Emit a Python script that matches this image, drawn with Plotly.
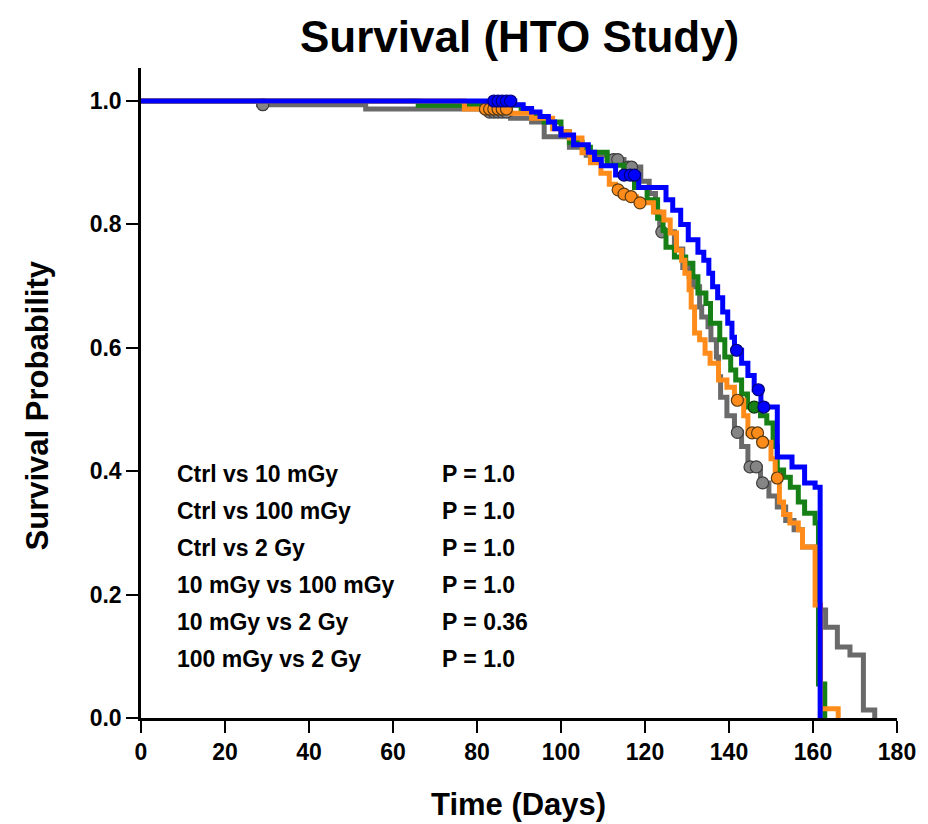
import numpy as np
import plotly.graph_objects as go

# ---------------- data ----------------
groups = ["Ctrl", "10 mGy", "100 mGy", "2 Gy"]

ctrl_t = [28, 53.5, 82, 88, 93, 96, 102, 106, 111, 115, 119, 121, 122.5, 123.5, 127, 129, 130.5, 131.5, 133, 133.5,
          135, 135.7, 137, 137.5, 138, 139.5, 141.3, 143, 144.5, 147.5, 149.5, 151.5, 153.5, 155.5, 157.5, 161.5, 163,
          165.8, 168.8, 172, 174.7]
ctrl_s = [0.994, 0.987, 0.982, 0.972, 0.966, 0.942, 0.925, 0.912, 0.905, 0.893, 0.87, 0.85, 0.82, 0.788, 0.76, 0.73,
          0.715, 0.699, 0.666, 0.65, 0.634, 0.613, 0.585, 0.553, 0.52, 0.49, 0.463, 0.44, 0.407, 0.381, 0.36, 0.342,
          0.32, 0.305, 0.277, 0.175, 0.147, 0.115, 0.102, 0.013, 0.0]
ctrl_cens = [29, 83, 84, 85, 86, 87, 112.5, 113.5, 116, 116.8, 124, 142, 145, 146.5, 148]

m10_t = [77, 88, 93, 98, 100, 102, 105, 107, 109.5, 111.5, 113, 114.5, 116, 118, 122, 124.5, 126, 127.5, 128.7, 129.5,
         130.5, 131, 131.8, 133, 134.3, 135.5, 137.5, 139.5, 141.3, 143.5, 144.5, 147.5, 150, 151, 152, 153, 154.5,
         156.5, 157.5, 160.5, 161.8, 166]
m10_s = [0.987, 0.98, 0.972, 0.955, 0.95, 0.94, 0.916, 0.9, 0.883, 0.865, 0.856, 0.849, 0.845, 0.835, 0.82, 0.807,
         0.786, 0.758, 0.742, 0.721, 0.694, 0.666, 0.624, 0.613, 0.591, 0.575, 0.548, 0.536, 0.515, 0.49, 0.462, 0.447,
         0.42, 0.389, 0.35, 0.33, 0.316, 0.305, 0.277, 0.183, 0.015, 0.0]
m10_cens = [82, 83, 84, 85, 86, 87, 113.6, 115, 116.7, 118.8, 142, 145.5, 146.8, 148, 151.5]

m100_t = [66, 90.5, 93, 96, 100, 102, 105, 107, 111, 115, 117.5, 120.5, 123, 124.3, 125, 127, 129.7, 131.4, 132.6,
          134.5, 135.6, 137.8, 139, 140.4, 141.6, 143, 144.4, 147.5, 149, 150.5, 151.5, 153, 154.6, 156.5, 158, 160.5,
          161.3, 162.8]
m100_s = [0.993, 0.985, 0.975, 0.966, 0.95, 0.933, 0.925, 0.917, 0.896, 0.88, 0.86, 0.84, 0.81, 0.79, 0.763, 0.747,
          0.737, 0.715, 0.689, 0.672, 0.64, 0.613, 0.585, 0.564, 0.548, 0.525, 0.504, 0.49, 0.478, 0.44, 0.402, 0.39,
          0.374, 0.35, 0.332, 0.316, 0.055, 0.0]
m100_cens = [146]

gy2_t = [89, 91, 93, 95, 97, 98.5, 100, 103, 106.5, 108, 109.6, 113, 118.5, 125, 126.6, 128.5, 130.3, 132.6, 134,
         135.2, 136.1, 137.3, 138.5, 139.7, 140.7, 141.3, 143, 144.5, 146, 147.6, 151.5, 155, 158, 160.5, 161.7]
gy2_s = [0.994, 0.988, 0.982, 0.975, 0.966, 0.955, 0.945, 0.929, 0.917, 0.905, 0.895, 0.88, 0.86, 0.84, 0.823, 0.80,
         0.775, 0.755, 0.742, 0.721, 0.699, 0.681, 0.658, 0.64, 0.617, 0.596, 0.575, 0.555, 0.532, 0.504, 0.423, 0.407,
         0.381, 0.374, 0.0]
gy2_cens = [84, 85, 86, 87, 88, 115, 116.5, 117.5, 141.8, 147, 148.3]

comparisons = ["Ctrl vs 10 mGy", "Ctrl vs 100 mGy", "Ctrl vs 2 Gy",
               "10 mGy vs 100 mGy", "10 mGy vs 2 Gy", "100 mGy vs 2 Gy"]
p_values = ["P = 1.0", "P = 1.0", "P = 1.0", "P = 1.0", "P = 0.36", "P = 1.0"]

x_ticks = [0, 20, 40, 60, 80, 100, 120, 140, 160, 180]
y_ticks = [0.0, 0.2, 0.4, 0.6, 0.8, 1.0]

# ---------------- styling ----------------
FONT = "Liberation Sans, Arial, Helvetica, sans-serif"
styles = {
    "Ctrl":    dict(line="#6a6a6a", fill="#858585", edge="#3c3c3c"),
    "10 mGy":  dict(line="#ff8c1a", fill="#ff8c1a", edge="#5a3a10"),
    "100 mGy": dict(line="#168016", fill="#168016", edge="#0c3c0c"),
    "2 Gy":    dict(line="#0000ff", fill="#0000ff", edge="#00007a"),
}
series = {
    "Ctrl": (ctrl_t, ctrl_s, ctrl_cens),
    "10 mGy": (m10_t, m10_s, m10_cens),
    "100 mGy": (m100_t, m100_s, m100_cens),
    "2 Gy": (gy2_t, gy2_s, gy2_cens),
}
draw_order = ["Ctrl", "100 mGy", "10 mGy", "2 Gy"]

fig = go.Figure()
for g in draw_order:
    t, s, c = series[g]
    st = styles[g]
    xs = [0.0] + list(t)
    ys = [1.0] + list(s)
    fig.add_trace(go.Scatter(x=xs, y=ys, mode="lines", line=dict(color=st["line"], width=5, shape="hv"),
                             name=g, showlegend=False, hoverinfo="skip"))
    # censor marks: survival at censor time from the step function
    tt = np.array(xs)
    yy = np.array(ys)
    idx = np.searchsorted(tt, np.array(c), side="right") - 1
    fig.add_trace(go.Scatter(x=c, y=yy[idx], mode="markers",
                             marker=dict(symbol="circle", size=12, color=st["fill"],
                                         line=dict(color=st["edge"], width=1.2)),
                             showlegend=False, hoverinfo="skip", cliponaxis=False))

tick_font = dict(family=FONT, size=23, color="black", weight="bold")
fig.update_xaxes(range=[0, 180], tickvals=x_ticks, ticktext=[str(v) for v in x_ticks],
                 showline=True, linecolor="black", linewidth=2.5, ticks="outside", ticklen=12,
                 tickwidth=2, tickcolor="black", showgrid=False, zeroline=False, tickfont=tick_font)
fig.update_yaxes(range=[0, 1.0535], tickvals=y_ticks, ticktext=[f"{v:.1f}" for v in y_ticks],
                 showline=True, linecolor="black", linewidth=2.5, ticks="outside", ticklen=12,
                 tickwidth=2, tickcolor="black", showgrid=False, zeroline=False, tickfont=tick_font)

L, R, T, B = 141, 28, 68, 106
W, H = 928, 824
pw, ph = W - L - R, H - T - B


def px(xp):
    return (xp - L) / pw


def py(yp):
    return (H - B - yp) / ph


ann = []
ann.append(dict(text="Survival (HTO Study)", x=0.5, y=py(36), xref="paper", yref="paper",
                showarrow=False, xanchor="center", yanchor="middle",
                font=dict(family=FONT, size=44, color="black", weight="bold")))
ann.append(dict(text="Time (Days)", x=px(520), y=py(805), xref="paper", yref="paper",
                showarrow=False, xanchor="center", yanchor="middle",
                font=dict(family=FONT, size=31, color="black", weight="bold")))
ann.append(dict(text="Survival Probability", x=px(37), y=py(405), xref="paper", yref="paper",
                showarrow=False, xanchor="center", yanchor="middle", textangle=-90,
                font=dict(family=FONT, size=31, color="black", weight="bold")))
row_y = [474, 511, 548, 585, 622, 659]
for lab, pv, ry in zip(comparisons, p_values, row_y):
    ann.append(dict(text=lab, x=px(175), y=py(ry), xref="paper", yref="paper", showarrow=False,
                    xanchor="left", yanchor="middle",
                    font=dict(family=FONT, size=23, color="black", weight="bold")))
    ann.append(dict(text=pv, x=px(441), y=py(ry), xref="paper", yref="paper", showarrow=False,
                    xanchor="left", yanchor="middle",
                    font=dict(family=FONT, size=23, color="black", weight="bold")))

fig.update_layout(width=W, height=H, margin=dict(l=L, r=R, t=T, b=B, pad=0),
                  paper_bgcolor="white", plot_bgcolor="white", annotations=ann)

fig.write_html("out.html")
